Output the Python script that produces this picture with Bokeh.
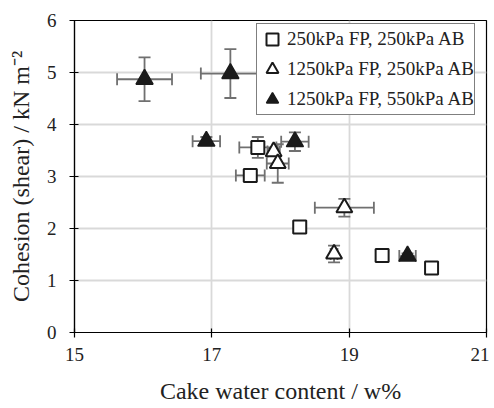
from bokeh.plotting import figure
from bokeh.models import ColumnDataSource, Whisker, TeeHead, Legend, LegendItem, FixedTicker
from bokeh.embed import file_html
from bokeh.resources import INLINE

# Series data: x = cake water content (w%), y = cohesion (kN m^-2)
sq_x = [17.67, 17.56, 18.28, 19.48, 20.20]
sq_y = [3.56, 3.02, 2.03, 1.48, 1.24]
sq_xerr = [0.27, 0.21, 0.0, 0.0, 0.0]
sq_yerr = [0.20, 0.06, 0.0, 0.0, 0.0]

ot_x = [17.90, 17.96, 18.93, 18.78]
ot_y = [3.48, 3.25, 2.40, 1.51]
ot_xerr = [0.09, 0.16, 0.43, 0.05]
ot_yerr = [0.06, 0.37, 0.17, 0.16]

ft_x = [16.02, 17.27, 16.92, 18.21, 19.85]
ft_y = [4.87, 4.98, 3.68, 3.67, 1.47]
ft_xerr = [0.40, 0.43, 0.20, 0.20, 0.12]
ft_yerr = [0.42, 0.47, 0.08, 0.18, 0.05]

labels = ["250kPa FP, 250kPa AB", "1250kPa FP, 250kPa AB", "1250kPa FP, 550kPa AB"]
x_ticks = [15, 17, 19, 21]
y_ticks = [0, 1, 2, 3, 4, 5, 6]

FONT = "Liberation Serif"
ERR = "#707070"
TXT = "#222222"

p = figure(width=489, height=406, x_range=(15, 21), y_range=(0, 6),
           output_backend="svg", toolbar_location=None,
           min_border_left=74, min_border_right=3, min_border_top=20, min_border_bottom=71)

p.outline_line_color = "black"
p.outline_line_width = 1.2
p.background_fill_color = "white"

for ax in (p.xaxis, p.yaxis):
    ax.axis_line_color = "black"
    ax.axis_line_width = 1.2
    ax.major_tick_line_color = "black"
    ax.major_tick_line_width = 1.2
    ax.major_tick_in = 4
    ax.major_tick_out = 5
    ax.minor_tick_line_color = None
    ax.major_label_text_font = FONT
    ax.major_label_text_font_size = "19px"
    ax.major_label_text_color = TXT
    ax.axis_label_text_font = FONT
    ax.axis_label_text_font_size = "24px"
    ax.axis_label_text_font_style = "normal"
    ax.axis_label_text_color = TXT

p.xaxis.ticker = FixedTicker(ticks=x_ticks)
p.yaxis.ticker = FixedTicker(ticks=y_ticks)
p.xaxis.axis_label = "Cake water content / w%"
p.yaxis.axis_label = "Cohesion (shear) / kN m\u207b\u00b2"
p.xaxis.major_label_standoff = 10
p.xaxis.axis_label_standoff = 14
p.yaxis.major_label_standoff = 13
p.yaxis.axis_label_standoff = 10

p.grid.grid_line_color = "#d9d9d9"
p.grid.grid_line_width = 1.8

def add_err(xs, ys, xe, ye):
    src = ColumnDataSource(dict(
        x=xs, y=ys,
        xl=[a - b for a, b in zip(xs, xe)], xu=[a + b for a, b in zip(xs, xe)],
        yl=[a - b for a, b in zip(ys, ye)], yu=[a + b for a, b in zip(ys, ye)]))
    for base, lo, up, dim in (("y", "xl", "xu", "width"), ("x", "yl", "yu", "height")):
        w = Whisker(source=src, base=base, lower=lo, upper=up, dimension=dim,
                    line_color=ERR, line_width=1.8,
                    lower_head=TeeHead(size=12, line_color=ERR, line_width=1.8),
                    upper_head=TeeHead(size=12, line_color=ERR, line_width=1.8))
        p.add_layout(w)

add_err(sq_x, sq_y, sq_xerr, sq_yerr)
add_err(ot_x, ot_y, ot_xerr, ot_yerr)
add_err(ft_x, ft_y, ft_xerr, ft_yerr)

r1 = p.scatter(sq_x, sq_y, marker="square", size=13, fill_color="white",
               line_color="#1a1a1a", line_width=2)
r2 = p.scatter(ot_x, ot_y, marker="triangle", size=16, fill_color="white",
               line_color="#1a1a1a", line_width=2)
r3 = p.scatter(ft_x, ft_y, marker="triangle", size=17, fill_color="#1a1a1a",
               line_color="#1a1a1a", line_width=1.5)

legend = Legend(items=[LegendItem(label=labels[0], renderers=[r1]),
                       LegendItem(label=labels[1], renderers=[r2]),
                       LegendItem(label=labels[2], renderers=[r3])],
                location=(182, 217))
legend.border_line_color = "black"
legend.border_line_width = 1.2
legend.background_fill_alpha = 1
legend.label_text_font = FONT
legend.label_text_font_size = "19px"
legend.label_text_color = TXT
legend.glyph_width = 30
legend.glyph_height = 30
legend.label_standoff = 0
legend.label_width = 180
legend.padding = 0
legend.spacing = 0
legend.margin = 0
legend.label_height = 30
p.add_layout(legend)

open("out.html", "w").write(file_html(p, INLINE))
